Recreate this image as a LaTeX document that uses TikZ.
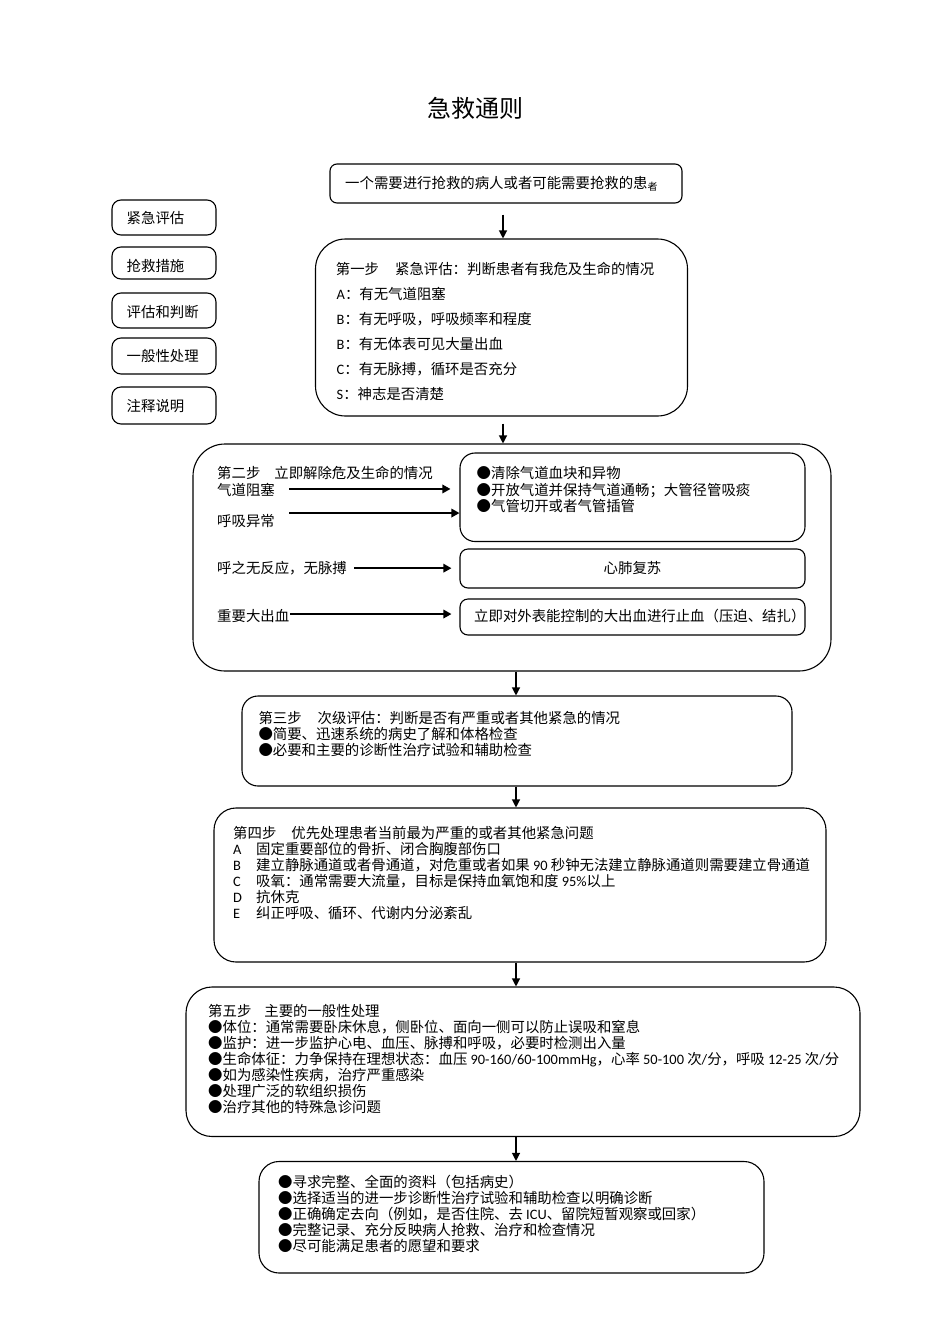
\documentclass[tikz,border=0pt]{standalone}
\usepackage{fontspec}
\setmainfont{Noto Sans CJK SC}
\newfontfamily\lat{Carlito}
\usetikzlibrary{arrows.meta}
\newcommand\La[1]{{\lat #1}}
\begin{document}
\begin{tikzpicture}[x=1pt,y=-1pt,
  rbox/.style={draw, line width=1.1pt, rounded corners=#1, inner sep=0pt},
  rbox/.default=8pt,
  txt/.style={anchor=base west, inner sep=0pt, font=\fontsize{14.4}{16}\selectfont},
  ctxt/.style={anchor=base, inner sep=0pt, font=\fontsize{14.4}{16}\selectfont},
  arr/.style={line width=1.2pt, -{Triangle[length=8pt,width=8pt]}},
  harr/.style={line width=1.6pt, -{Triangle[length=8pt,width=8.5pt]}},
]
\useasboundingbox[fill=white] (0,0) rectangle (950,1344);

% title
\node[anchor=base, inner sep=0pt, font=\fontsize{24}{24}\selectfont] (title) at (475,117) {急救通则};

% boxes
\node[rbox=7pt, minimum width=352pt, minimum height=39pt] (top) at (506,183.5) {};
\node[rbox=30pt, minimum width=372pt, minimum height=177pt] (s1) at (501.5,327.5) {};
\node[rbox=9pt, minimum width=104pt, minimum height=35pt] (L1) at (164,217.5) {};
\node[rbox=9pt, minimum width=104pt, minimum height=32pt] (L2) at (164,263) {};
\node[rbox=9pt, minimum width=104pt, minimum height=35pt] (L3) at (164,310.5) {};
\node[rbox=9pt, minimum width=104pt, minimum height=36pt] (L4) at (164,356) {};
\node[rbox=9pt, minimum width=104pt, minimum height=37pt] (L5) at (164,405.5) {};
\node[rbox=32pt, minimum width=638pt, minimum height=227pt] (s2) at (512,557.5) {};
\node[rbox=15pt, minimum width=345pt, minimum height=88.5pt] (b1) at (632.5,497.25) {};
\node[rbox=8pt, minimum width=345pt, minimum height=39pt] (b2) at (632.5,568.5) {};
\node[rbox=8pt, minimum width=345pt, minimum height=36pt] (b3) at (632.5,617) {};
\node[rbox=16pt, minimum width=550pt, minimum height=90pt] (s3) at (517,741) {};
\node[rbox=22pt, minimum width=612pt, minimum height=154pt] (s4) at (520,885) {};
\node[rbox=26pt, minimum width=674pt, minimum height=149.5pt] (s5) at (523,1061.75) {};
\node[rbox=20pt, minimum width=505pt, minimum height=111.5pt] (s6) at (511.5,1217.25) {};

% top text
\node[txt] (toptext) at (345,188.5) {一个需要进行抢救的病人或者可能需要抢救的患\raisebox{-2pt}{\fontsize{10}{10}\selectfont 者}};

% legend
\node[txt] (L1t) at (126.5,223.8) {紧急评估};
\node[txt] (L2t) at (126.5,271.5) {抢救措施};
\node[txt] (L3t) at (126.5,317.2) {评估和判断};
\node[txt] (L4t) at (126.5,361.5) {一般性处理};
\node[txt] (L5t) at (126.5,411.5) {注释说明};

% step 1
\node[txt] (s1a) at (335.7,274.8) {第一步\hspace{16pt}紧急评估：判断患者有我危及生命的情况};
\node[txt] (s1b) at (336.5,299.8) {\La{A}：有无气道阻塞};
\node[txt] (s1c) at (336.5,324.8) {\La{B}：有无呼吸，呼吸频率和程度};
\node[txt] (s1d) at (336.5,349.8) {\La{B}：有无体表可见大量出血};
\node[txt] (s1e) at (336.5,374.8) {\La{C}：有无脉搏，循环是否充分};
\node[txt] (s1f) at (336.5,399.8) {\La{S}：神志是否清楚};

% step 2
\node[txt] (s2a) at (217,478.5) {第二步\hspace{14pt}立即解除危及生命的情况};
\node[txt] (qd) at (217,495.5) {气道阻塞};
\node[txt] (hx) at (217,526) {呼吸异常};
\node[txt] (hz) at (217,573.5) {呼之无反应，无脉搏};
\node[txt] (dx) at (217,621) {重要大出血};
\node[txt] (b1a) at (476.5,478.5) {●清除气道血块和异物};
\node[txt] (b1b) at (476.5,495) {●开放气道并保持气道通畅；大管径管吸痰};
\node[txt] (b1c) at (476.5,511.5) {●气管切开或者气管插管};
\node[ctxt] (b2t) at (632.5,573.5) {心肺复苏};
\node[txt] (b3t) at (474,621) {立即对外表能控制的大出血进行止血（压迫、结扎）};

\coordinate (p1) at ([xshift=14pt,yshift=1pt]qd.east);
\coordinate (p2) at ([xshift=14pt,yshift=7.5pt]hx.east);
\coordinate (p3) at ([xshift=7pt]hz.east);
\coordinate (p4) at ([xshift=1pt,yshift=1.5pt]dx.east);
\draw[harr, shorten >=9pt] (p1) -- (p1 -| b1.west);
\draw[harr] (p2) -- (p2 -| b1.west);
\draw[harr, shorten >=8pt] (p3) -- (p3 -| b2.west);
\draw[harr, shorten >=8pt] (p4) -- (p4 -| b3.west);

% step 3
\node[txt] (s3a) at (258.3,723) {第三步\hspace{16pt}次级评估：判断是否有严重或者其他紧急的情况};
\node[txt] (s3b) at (258.3,739) {●简要、迅速系统的病史了解和体格检查};
\node[txt] (s3c) at (258.3,755) {●必要和主要的诊断性治疗试验和辅助检查};

% step 4
\node[txt] (s4a) at (233,838.2) {第四步\hspace{15pt}优先处理患者当前最为严重的或者其他紧急问题};
\node[txt] (s4b) at (233,854.2) {\makebox[23pt][l]{\La{A}}固定重要部位的骨折、闭合胸腹部伤口};
\node[txt] (s4c) at (233,870.2) {\makebox[23pt][l]{\La{B}}建立静脉通道或者骨通道，对危重或者如果 \La{90} 秒钟无法建立静脉通道则需要建立骨通道};
\node[txt] (s4d) at (233,886.2) {\makebox[23pt][l]{\La{C}}吸氧：通常需要大流量，目标是保持血氧饱和度 \La{95\%}以上};
\node[txt] (s4e) at (233,902.2) {\makebox[23pt][l]{\La{D}}抗休克};
\node[txt] (s4f) at (233,918.2) {\makebox[23pt][l]{\La{E}}纠正呼吸、循环、代谢内分泌紊乱};

% step 5
\node[txt] (s5a) at (208,1016.2) {第五步\hspace{13pt}主要的一般性处理};
\node[txt] (s5b) at (208,1032.2) {●体位：通常需要卧床休息，侧卧位、面向一侧可以防止误吸和窒息};
\node[txt] (s5c) at (208,1048.2) {●监护：进一步监护心电、血压、脉搏和呼吸，必要时检测出入量};
\node[txt] (s5d) at (208,1064.2) {●生命体征：力争保持在理想状态：血压 \La{90-160/60-100mmHg}，心率 \La{50-100} 次\La{/}分，呼吸 \La{12-25} 次\La{/}分};
\node[txt] (s5e) at (208,1080.2) {●如为感染性疾病，治疗严重感染};
\node[txt] (s5f) at (208,1096.2) {●处理广泛的软组织损伤};
\node[txt] (s5g) at (208,1112.2) {●治疗其他的特殊急诊问题};

% last box
\node[txt] (s6a) at (278,1187.2) {●寻求完整、全面的资料（包括病史）};
\node[txt] (s6b) at (278,1203.2) {●选择适当的进一步诊断性治疗试验和辅助检查以明确诊断};
\node[txt] (s6c) at (278,1219.2) {●正确确定去向（例如，是否住院、去 \La{ICU}、留院短暂观察或回家）};
\node[txt] (s6d) at (278,1235.2) {●完整记录、充分反映病人抢救、治疗和检查情况};
\node[txt] (s6e) at (278,1251.2) {●尽可能满足患者的愿望和要求};

% main arrows
\coordinate (ax1) at (503,0);
\coordinate (ax2) at (516,0);
\draw[arr, shorten <=11pt] (top.south -| ax1) -- (s1.north -| ax1);
\draw[arr, shorten <=7pt] (s1.south -| ax1) -- (s2.north -| ax1);
\draw[arr] (s2.south -| ax2) -- (s3.north -| ax2);
\draw[arr] (s3.south -| ax2) -- (s4.north -| ax2);
\draw[arr] (s4.south -| ax2) -- (s5.north -| ax2);
\draw[arr] (s5.south -| ax2) -- (s6.north -| ax2);
\end{tikzpicture}
\end{document}
